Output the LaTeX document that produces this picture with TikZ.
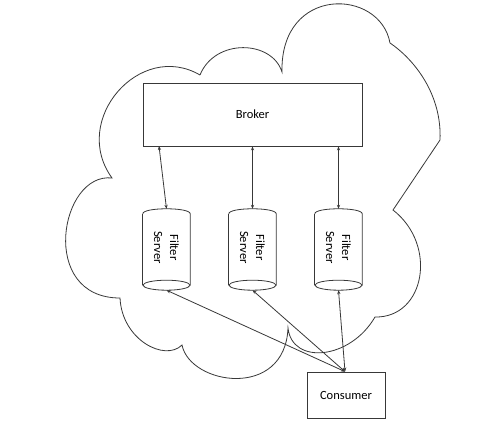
\documentclass[tikz,border=0pt]{standalone}
\usepackage{fontspec}
\setmainfont{Carlito}
\usetikzlibrary{arrows.meta,calc}
\begin{document}
\begin{tikzpicture}[x=1pt,y=-1pt,
  ln/.style={draw=black!78,line width=0.8pt},
  box/.style={ln,rectangle,inner sep=0pt,font=\fontsize{12.5}{15}\selectfont},
  cylbox/.style={rectangle,inner sep=0pt,minimum width=47pt,minimum height=81pt},
  cyltext/.style={rotate=-90,align=center,font=\fontsize{12.5}{16}\selectfont},
  conn/.style={ln,{Stealth[length=4pt,width=3.2pt]}-{Stealth[length=4pt,width=3.2pt]}}]
\useasboundingbox (0,0) rectangle (500,426);
\fill[white] (0,0) rectangle (500,426);
% cloud
\draw[ln] (200,75) .. controls (140,40) and (70,120) .. (112,178)
  .. controls (60,172) and (38,298) .. (120,298)
  .. controls (122,340) and (165,362) .. (182,345)
  .. controls (190,385) and (285,400) .. (288,328)
  .. controls (292,365) and (350,360) .. (375,317)
  .. controls (425,318) and (438,245) .. (393,210)
  -- (440,140)
  .. controls (442,95) and (415,60) .. (390,43)
  .. controls (380,-12) and (280,-15) .. (282,72)
  .. controls (272,40) and (215,38) .. (200,75);
% nodes
\node[box,minimum width=219pt,minimum height=63pt] (broker) at (252.5,114.5) {Broker};
\node[box,minimum width=78pt,minimum height=46pt] (cons) at (346,395) {Consumer};
\node[cylbox] (f1) at (166.5,249.5) {};
\node[cylbox] (f2) at (252.5,249.5) {};
\node[cylbox] (f3) at (338.5,249.5) {};
\foreach \c in {f1,f2,f3}{
  \draw[ln] ($(\c.north west)+(0,5)$) .. controls ($(\c.north west)+(0,-1.7)$) and ($(\c.north east)+(0,-1.7)$) .. ($(\c.north east)+(0,5)$)
    -- ($(\c.south east)+(0,-5)$);
  \draw[ln] ($(\c.north west)+(0,5)$) -- ($(\c.south west)+(0,-5)$);
  \draw[ln] ($(\c.south)+(0,-5)$) ellipse [x radius=23.5pt, y radius=5pt];
  \node[cyltext] (t\c) at ($(\c.center)+(0,-2)$) {Filter\\Server};
}
\coordinate (b1) at (159,146);
\coordinate (b2) at (broker.south -| f2.north);
\coordinate (b3) at (broker.south -| f3.north);
\draw[conn] (b1) -- (f1.north);
\draw[conn] (b2) -- (f2.north);
\draw[conn] (b3) -- (f3.north);
\coordinate (c) at ($(cons.north)+(-1,0)$);
\draw[conn] (c) -- (f1.south);
\draw[conn] (c) -- (f2.south);
\draw[conn] (c) -- (f3.south);
\end{tikzpicture}
\end{document}
